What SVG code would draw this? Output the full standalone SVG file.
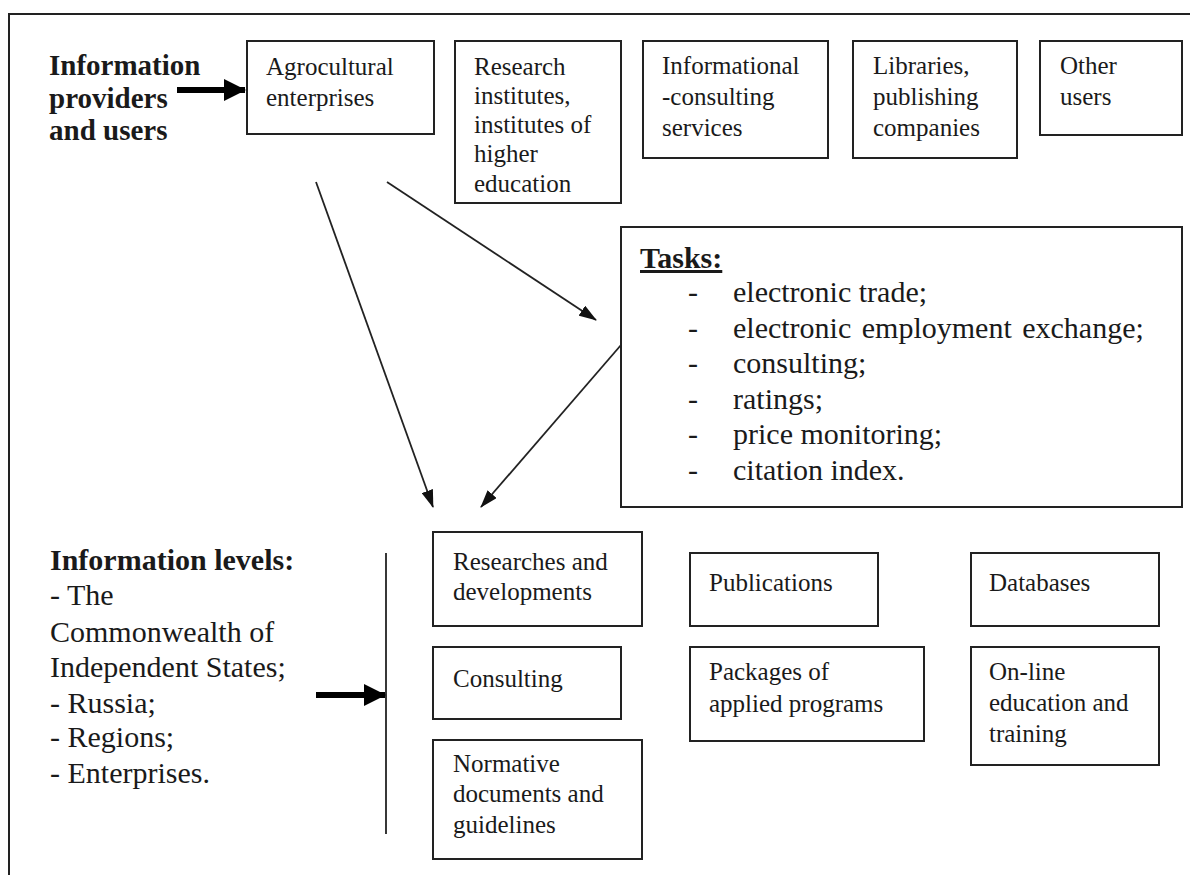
<svg xmlns="http://www.w3.org/2000/svg" width="1190" height="875" viewBox="0 0 1190 875">
  <style>
    .frame { fill: none; stroke: #222; stroke-width: 2; }
    .box { fill: #fff; stroke: #222; stroke-width: 2; }
    .t { font-family: "Liberation Serif", "Times New Roman", serif; font-size: 25px; fill: #1a1a1a; }
    .big { font-family: "Liberation Serif", "Times New Roman", serif; font-size: 30px; fill: #1a1a1a; }
    .head { font-family: "Liberation Serif", "Times New Roman", serif; font-size: 29px; font-weight: bold; fill: #1a1a1a; }
    .bighead { font-family: "Liberation Serif", "Times New Roman", serif; font-size: 30px; font-weight: bold; fill: #1a1a1a; }
    .conn { fill: none; stroke: #222; stroke-width: 1.8; }
    .thick { fill: none; stroke: #000; stroke-width: 6; }
  </style>
  <defs>
    <marker id="arrow" viewBox="0 0 18 12" refX="17" refY="6" markerWidth="18" markerHeight="12" markerUnits="userSpaceOnUse" orient="auto">
      <path d="M0,0 L18,6 L0,12 Z" fill="#111"/>
    </marker>
    <marker id="fat" viewBox="0 0 22 22" refX="21" refY="11" markerWidth="22" markerHeight="22" markerUnits="userSpaceOnUse" orient="auto">
      <path d="M0,0 L22,11 L0,22 Z" fill="#000"/>
    </marker>
  </defs>

  <rect fill="#fff" x="0" y="0" width="1190" height="875"/>
  <!-- outer frame: only top and left edges fall inside the page -->
  <rect class="frame" x="9" y="14" width="1200" height="900"/>

  <g id="providers-label">
    <text class="head" x="49" y="75">Information</text>
    <text class="head" x="49" y="108">providers</text>
    <text class="head" x="49" y="140">and users</text>
  </g>

  <g id="agricultural">
    <rect class="box" x="247" y="41" width="187" height="93"/>
    <text class="t" x="266" y="75">Agrocultural</text>
    <text class="t" x="266" y="106">enterprises</text>
  </g>

  <g id="research">
    <rect class="box" x="455" y="41" width="166" height="162"/>
    <text class="t" x="474" y="75">Research</text>
    <text class="t" x="474" y="104">institutes,</text>
    <text class="t" x="474" y="133">institutes of</text>
    <text class="t" x="474" y="162">higher</text>
    <text class="t" x="474" y="192">education</text>
  </g>

  <g id="consulting-services">
    <rect class="box" x="643" y="41" width="185" height="117"/>
    <text class="t" x="662" y="74">Informational</text>
    <text class="t" x="662" y="105">-consulting</text>
    <text class="t" x="662" y="136">services</text>
  </g>

  <g id="libraries">
    <rect class="box" x="853" y="41" width="164" height="117"/>
    <text class="t" x="873" y="74">Libraries,</text>
    <text class="t" x="873" y="105">publishing</text>
    <text class="t" x="873" y="136">companies</text>
  </g>

  <g id="other-users">
    <rect class="box" x="1040" y="41" width="142" height="94"/>
    <text class="t" x="1060" y="74">Other</text>
    <text class="t" x="1060" y="105">users</text>
  </g>

  <g id="tasks">
    <rect class="box" x="621" y="227" width="561" height="280"/>
    <text class="bighead" x="640" y="268" text-decoration="underline">Tasks:</text>
    <g class="big">
      <text x="688" y="302">-</text><text x="733" y="302">electronic trade;</text>
      <text x="688" y="338">-</text><text x="733" y="338" word-spacing="3">electronic employment exchange;</text>
      <text x="688" y="373">-</text><text x="733" y="373">consulting;</text>
      <text x="688" y="409">-</text><text x="733" y="409">ratings;</text>
      <text x="688" y="444">-</text><text x="733" y="444">price monitoring;</text>
      <text x="688" y="480">-</text><text x="733" y="480">citation index.</text>
    </g>
  </g>

  <g id="levels-label">
    <text class="bighead" x="50" y="570">Information levels:</text>
    <text class="big" x="50" y="605">- The</text>
    <text class="big" x="50" y="642">Commonwealth of</text>
    <text class="big" x="50" y="677">Independent States;</text>
    <text class="big" x="50" y="713">- Russia;</text>
    <text class="big" x="50" y="747">- Regions;</text>
    <text class="big" x="50" y="783">- Enterprises.</text>
  </g>

  <g id="researches">
    <rect class="box" x="433" y="532" width="209" height="94"/>
    <text class="t" x="453" y="570">Researches and</text>
    <text class="t" x="453" y="600">developments</text>
  </g>

  <g id="consulting">
    <rect class="box" x="433" y="647" width="188" height="72"/>
    <text class="t" x="453" y="687">Consulting</text>
  </g>

  <g id="normative">
    <rect class="box" x="433" y="740" width="209" height="119"/>
    <text class="t" x="453" y="772">Normative</text>
    <text class="t" x="453" y="802">documents and</text>
    <text class="t" x="453" y="833">guidelines</text>
  </g>

  <g id="publications">
    <rect class="box" x="690" y="553" width="188" height="73"/>
    <text class="t" x="709" y="591">Publications</text>
  </g>

  <g id="packages">
    <rect class="box" x="690" y="647" width="234" height="94"/>
    <text class="t" x="709" y="680">Packages of</text>
    <text class="t" x="709" y="712">applied programs</text>
  </g>

  <g id="databases">
    <rect class="box" x="971" y="553" width="188" height="73"/>
    <text class="t" x="989" y="591">Databases</text>
  </g>

  <g id="online">
    <rect class="box" x="971" y="647" width="188" height="118"/>
    <text class="t" x="989" y="680">On-line</text>
    <text class="t" x="989" y="711">education and</text>
    <text class="t" x="989" y="742">training</text>
  </g>

  <g id="connectors">
    <line class="thick" x1="177" y1="90" x2="245" y2="90" marker-end="url(#fat)"/>
    <line class="conn" x1="316" y1="182" x2="433" y2="507" marker-end="url(#arrow)"/>
    <line class="conn" x1="387" y1="182" x2="596" y2="320" marker-end="url(#arrow)"/>
    <line class="conn" x1="621" y1="345" x2="481" y2="507" marker-end="url(#arrow)"/>
    <line class="conn" x1="386" y1="553" x2="386" y2="834"/>
    <line class="thick" x1="316" y1="695" x2="385" y2="695" marker-end="url(#fat)"/>
  </g>
</svg>
